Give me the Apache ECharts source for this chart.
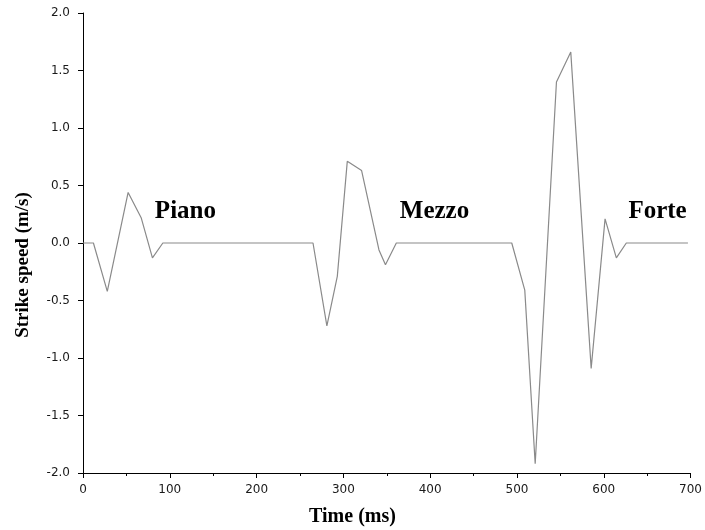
<!DOCTYPE html>
<html>
<head>
<meta charset="utf-8">
<script src="https://cdn.jsdelivr.net/npm/echarts@6/dist/echarts.min.js"></script>
<style>html,body{margin:0;padding:0;background:#fff}#c{width:705px;height:530px}</style>
</head>
<body>
<div id="c"></div>
<script>
var timeMs = [0, 12, 28, 52, 67, 80, 92, 265, 281, 293, 304.5, 321, 341, 348.5, 361, 494, 509, 521, 545.5, 562, 585.5, 601.5, 614.5, 626, 697];
var speed  = [0, 0, -0.42, 0.44, 0.22, -0.13, 0, 0, -0.72, -0.29, 0.71, 0.63, -0.06, -0.19, 0, 0, -0.41, -1.92, 1.40, 1.66, -1.09, 0.21, -0.13, 0, 0];
var labelNames = ['Piano', 'Mezzo', 'Forte'];
var labelTime = [118, 405, 662];
var labelSpeed = [0.27, 0.27, 0.27];
var xTicks = [0, 100, 200, 300, 400, 500, 600, 700];
var yTicks = [-2.0, -1.5, -1.0, -0.5, 0.0, 0.5, 1.0, 1.5, 2.0];

var lineData = timeMs.map(function (t, i) { return [t, speed[i]]; });
var labelData = labelNames.map(function (n, i) { return { name: n, value: [labelTime[i], labelSpeed[i]] }; });

var chart = echarts.init(document.getElementById('c'));
chart.setOption({
  animation: false,
  backgroundColor: '#fff',
  grid: { left: 83, right: 12, top: 13, bottom: 57 },
  xAxis: {
    type: 'value', min: xTicks[0], max: xTicks[xTicks.length - 1], interval: 100,
    axisLine: { show: true, onZero: false, lineStyle: { color: '#000', width: 1 } },
    axisTick: { show: true, inside: false, length: 5, lineStyle: { color: '#000' } },
    minorTick: { show: true, splitNumber: 2, length: 3, lineStyle: { color: '#000' } },
    splitLine: { show: false },
    axisLabel: { margin: 11, color: '#1a1a1a', fontFamily: 'DejaVu Sans', fontSize: 12 }
  },
  yAxis: {
    type: 'value', min: yTicks[0], max: yTicks[yTicks.length - 1], interval: 0.5,
    axisLine: { show: true, onZero: false, lineStyle: { color: '#000', width: 1 } },
    axisTick: { show: true, length: 5, lineStyle: { color: '#000' } },
    splitLine: { show: false },
    axisLabel: { margin: 13, color: '#1a1a1a', fontFamily: 'DejaVu Sans', fontSize: 12,
      formatter: function (v) { return v.toFixed(1); } }
  },
  graphic: [
    { type: 'text', left: 'center', top: 507,
      style: { text: 'Time (ms)', font: 'bold 20px "Liberation Serif"', fill: '#000' } },
    { type: 'text', x: 23, y: 265, rotation: Math.PI / 2,
      style: { text: 'Strike speed (m/s)', font: 'bold 19px "Liberation Serif"', fill: '#000', align: 'center', verticalAlign: 'middle' } }
  ],
  series: [
    { type: 'line', data: lineData, showSymbol: false, symbol: 'none',
      lineStyle: { color: '#8a8a8a', width: 1.2 } },
    { type: 'scatter', data: labelData, symbolSize: 0, silent: true,
      itemStyle: { color: 'rgba(0,0,0,0)', opacity: 1 },
      label: { show: true, position: 'inside', formatter: '{b}', color: '#000',
        textBorderWidth: 0, textBorderColor: 'transparent',
        fontFamily: 'Liberation Serif', fontWeight: 'bold', fontSize: 25 } }
  ]
});
</script>
</body>
</html>
